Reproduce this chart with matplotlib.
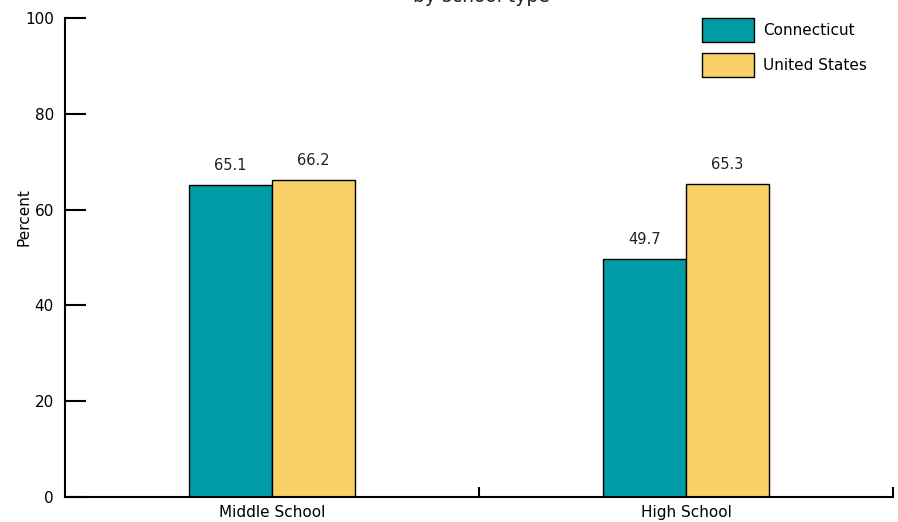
import numpy as np
import matplotlib.pyplot as plt

# data
categories = ['Middle School', 'High School']
connecticut = [65.1, 49.7]
united_states = [66.2, 65.3]
series_names = ['Connecticut', 'United States']
colors = ['#009ca6', '#f8d066']

plt.rcParams['font.family'] = ['Liberation Sans Narrow', 'DejaVu Sans']

fig = plt.figure(figsize=(8.98, 5.22), dpi=100)
ax = fig.add_axes([65/898, 25/522, 828/898, 479/522])

x = np.arange(len(categories))
w = 0.2
b1 = ax.bar(x - w/2, connecticut, w, color=colors[0], edgecolor='black', linewidth=1, label=series_names[0])
b2 = ax.bar(x + w/2, united_states, w, color=colors[1], edgecolor='black', linewidth=1, label=series_names[1])

for bars, vals in [(b1, connecticut), (b2, united_states)]:
    for r, v in zip(bars, vals):
        ax.text(r.get_x() + r.get_width()/2, v + 2.5, f'{v:.1f}', ha='center', va='bottom',
                fontsize=10.5, family='DejaVu Sans', color='#222222')

ax.set_xlim(-0.5, 1.5)
ax.set_ylim(0, 100)
ax.spines['top'].set_visible(False)
ax.spines['right'].set_visible(False)
ax.spines['left'].set_linewidth(1.5)
ax.spines['bottom'].set_linewidth(1.5)

ax.set_yticks([0, 20, 40, 60, 80, 100])
ax.tick_params(axis='y', direction='in', length=15, width=1.5, pad=8, labelsize=11)

ax.set_xticks([0.5, 1.5])
ax.set_xticklabels([])
ax.tick_params(axis='x', which='major', direction='in', length=7, width=1.5)
ax.set_xticks(x, minor=True)
ax.set_xticklabels(categories, minor=True, fontsize=11)
ax.tick_params(axis='x', which='minor', length=0, pad=6)

ax.set_ylabel('Percent', fontsize=11, family='DejaVu Sans')
ax.yaxis.set_label_coords(-0.040, 0.585)

ax.legend(loc='upper right', bbox_to_anchor=(0.985, 1.028), frameon=False,
          handlelength=3.4, handleheight=2.0, labelspacing=0.72, handletextpad=0.6,
          prop={'family': 'DejaVu Sans', 'size': 11})

fig.text(481/898, 1 - 2.2/522, 'by school type', ha='center', va='baseline',
         fontsize=13.5, family='DejaVu Sans', color='#222222')

fig.savefig('out.png', dpi=100)
